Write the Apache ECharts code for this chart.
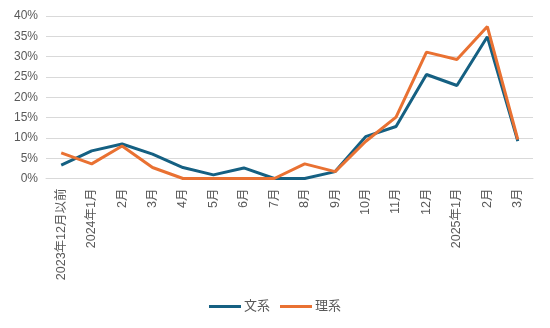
<!DOCTYPE html>
<html><head><meta charset="utf-8">
<script src="https://cdn.jsdelivr.net/npm/echarts@6/dist/echarts.min.js"></script>
<style>html,body{margin:0;padding:0;background:#fff}#c{width:550px;height:328px}</style>
</head><body><div id="c"></div>
<script>
const categories = ['2023年12月以前','2024年1月','2月','3月','4月','5月','6月','7月','8月','9月','10月','11月','12月','2025年1月','2月','3月'];
const bunkei = [3.3,6.8,8.5,6.0,2.7,0.9,2.6,0,0,1.7,10.3,12.8,25.6,22.9,34.9,9.2];
const rikei  = [6.3,3.6,8.0,2.7,0,0,0,0,3.6,1.7,9.1,15.1,31.1,29.3,37.4,9.6];
const seriesNames = ['文系','理系'];
const yTicks = {min:0,max:40,interval:5};
const font = '"Liberation Sans","Noto Sans CJK JP",sans-serif';
const chart = echarts.init(document.getElementById('c'));
chart.setOption({
  animation:false,
  textStyle:{fontFamily:font},
  grid:{left:46,right:17,top:16,bottom:149.5},
  legend:{bottom:10,left:'center',icon:'rect',itemWidth:32,itemHeight:3,itemGap:10,
    textStyle:{color:'#595959',fontSize:13,fontFamily:font,padding:[0,0,0,-2]},data:seriesNames},
  xAxis:{type:'category',data:categories,boundaryGap:true,
    axisLine:{lineStyle:{color:'#d9d9d9',width:1}},axisTick:{show:false},
    axisLabel:{interval:0,rotate:90,color:'#595959',fontSize:12.5,margin:10,fontFamily:font}},
  yAxis:{type:'value',min:yTicks.min,max:yTicks.max,interval:yTicks.interval,
    axisLine:{show:false},axisTick:{show:false},
    splitLine:{lineStyle:{color:'#d9d9d9',width:1}},
    axisLabel:{formatter:'{value}%',color:'#595959',fontSize:12,margin:8,fontFamily:font}},
  series:[
    {name:seriesNames[0],type:'line',data:bunkei,showSymbol:false,symbol:'none',
      lineStyle:{color:'#156082',width:3},itemStyle:{color:'#156082'}},
    {name:seriesNames[1],type:'line',data:rikei,showSymbol:false,symbol:'none',
      lineStyle:{color:'#E97132',width:3},itemStyle:{color:'#E97132'}}
  ]
});
</script></body></html>
